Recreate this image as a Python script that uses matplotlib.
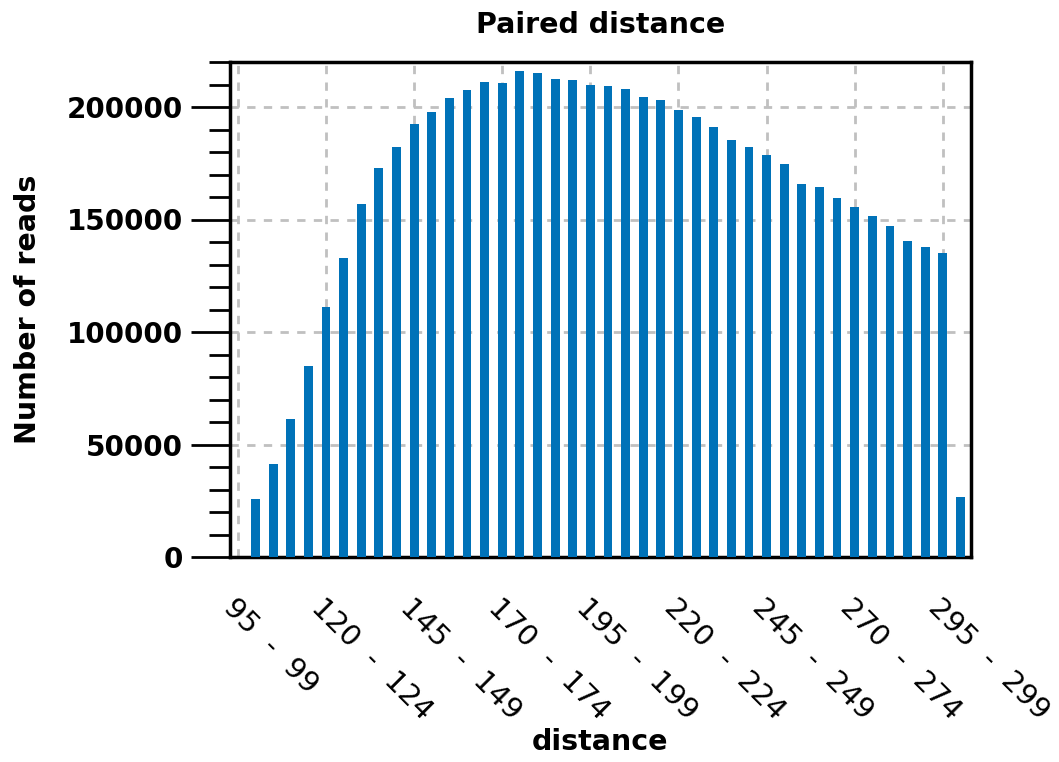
import numpy as np
import matplotlib.pyplot as plt

# bins 100-104 ... 300-304, counts
binStarts = list(range(100, 305, 5))
reads = [25800, 41400, 61500, 85000, 111000, 132700, 156800, 172800, 182200, 192400,
         197800, 204000, 207600, 211100, 210700, 216000, 215100, 212500, 212000, 209800,
         209400, 208000, 204500, 203100, 198700, 195500, 191100, 185300, 182200, 178600,
         174600, 165700, 164400, 159500, 155500, 151400, 147000, 140300, 137600, 135000,
         26700]
tickStarts = list(range(95, 300, 25))
tickLabels = ["%d  -  %d" % (s, s + 4) for s in tickStarts]

fig = plt.figure(figsize=(10.59, 7.62), dpi=100)
ax = fig.add_axes([230 / 1059, 1 - 557 / 762, (971 - 230) / 1059, (557 - 62) / 762])

x = [(s - 95) / 5 for s in binStarts]
ax.bar(x, reads, width=0.5, color="#0072b8", zorder=3)

ax.set_xlim(-0.45, 41.6)
ax.set_ylim(0, 220000)
ax.set_xticks([(s - 95) / 5 for s in tickStarts])
ax.set_xticklabels(tickLabels, rotation=-45, ha="left", va="top",
                   rotation_mode="anchor", fontsize=21)
ax.set_yticks(range(0, 220001, 50000))
ax.set_yticks(range(0, 220001, 10000), minor=True)
ax.tick_params(axis="y", which="major", length=28, width=2, labelsize=20, pad=6)
ax.tick_params(axis="y", which="minor", length=15, width=2)
ax.tick_params(axis="x", length=0, pad=26)
for lab in ax.get_yticklabels():
    lab.set_fontweight("bold")

ax.grid(True, which="major", linestyle=(0, (3, 3)), color="#c0c0c0", linewidth=2, zorder=0)
for sp in ax.spines.values():
    sp.set_linewidth(2.5)

ax.set_title("Paired distance", fontsize=20.5, fontweight="bold", pad=21)
ax.set_xlabel("distance", fontsize=20.5, fontweight="bold")
ax.xaxis.set_label_coords(0.499, -0.345)
ax.set_ylabel("Number of reads", fontsize=20.5, fontweight="bold")
ax.yaxis.set_label_coords(-0.254, 0.5)

fig.savefig("out.png", dpi=100)
